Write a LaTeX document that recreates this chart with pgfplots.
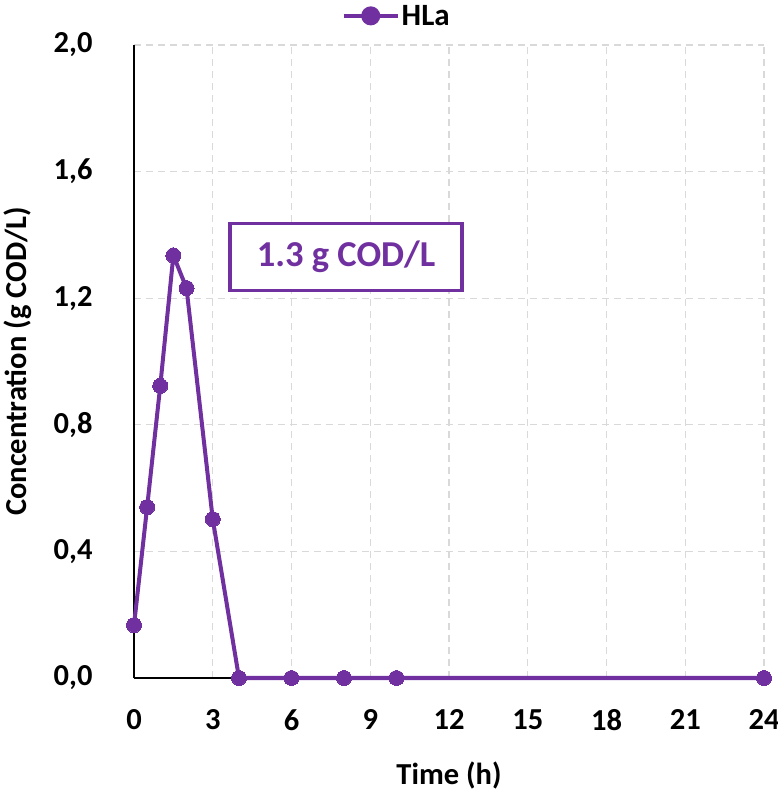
\documentclass[border=0pt]{standalone}
\usepackage{pgfplots}
\pgfplotsset{compat=1.18}
\usepackage{fontspec}
\setmainfont{Carlito}
\definecolor{hla}{RGB}{112,48,160}
\definecolor{gridc}{RGB}{217,217,217}
\begin{document}
\begin{tikzpicture}
\useasboundingbox (0,0) rectangle (778bp,793bp);
\begin{axis}[
  at={(134bp,115bp)}, anchor=origin,
  scale only axis, width=630bp, height=633bp,
  xmin=0, xmax=24, ymin=0, ymax=2,
  xtick={0,3,...,24}, ytick={0,0.4,...,2.0},
  axis x line*=bottom, axis y line*=left,
  axis line style={black, line width=2bp, -},
  major tick length=0pt,
  grid=major,
  major grid style={gridc, line width=1.3bp, dash pattern=on 7bp off 5bp},
  /pgf/number format/assume math mode=true,
  yticklabel style={/pgf/number format/fixed, /pgf/number format/fixed zerofill, /pgf/number format/precision=1, /pgf/number format/use comma},
  ticklabel style={font=\fontsize{30.5bp}{33bp}\selectfont\bfseries},
  xticklabel style={yshift=-28bp},
  yticklabel style={xshift=-38bp},
  xlabel={Time (h)}, ylabel={Concentration (g COD/L)},
  label style={font=\fontsize{30.5bp}{33bp}\selectfont\bfseries},
  xlabel style={at={(axis description cs:0.5,0)}, anchor=center, yshift=-97bp},
  ylabel style={at={(axis description cs:0,0.5)}, anchor=center, yshift=116bp},
  legend style={at={(0.417,1.046)}, anchor=center, draw=none, fill=none,
    font=\fontsize{31bp}{33bp}\selectfont\bfseries},
  legend image code/.code={
    \draw[hla, line width=4bp] (0bp,0bp) -- (54bp,0bp);
    \fill[hla] (27bp,0bp) circle (7.5bp);
  },
  clip=false,
]
\addplot[hla, line width=4bp, mark=*, mark size=7.5bp, mark options={fill=hla, draw=hla, line width=0bp}]
coordinates {(0,0.167) (0.5,0.54) (1,0.923) (1.5,1.335) (2,1.232) (3,0.502) (4,0) (6,0) (8,0) (10,0) (24,0)};
\addlegendentry{HLa}
\node[draw=hla, line width=3.5bp, text=hla, font=\fontsize{36.5bp}{38bp}\selectfont\bfseries,
  minimum width=232bp, minimum height=67bp, fill=white] at (axis cs:8.08,1.33) {1.3 g COD/L};
\end{axis}
\end{tikzpicture}
\end{document}
